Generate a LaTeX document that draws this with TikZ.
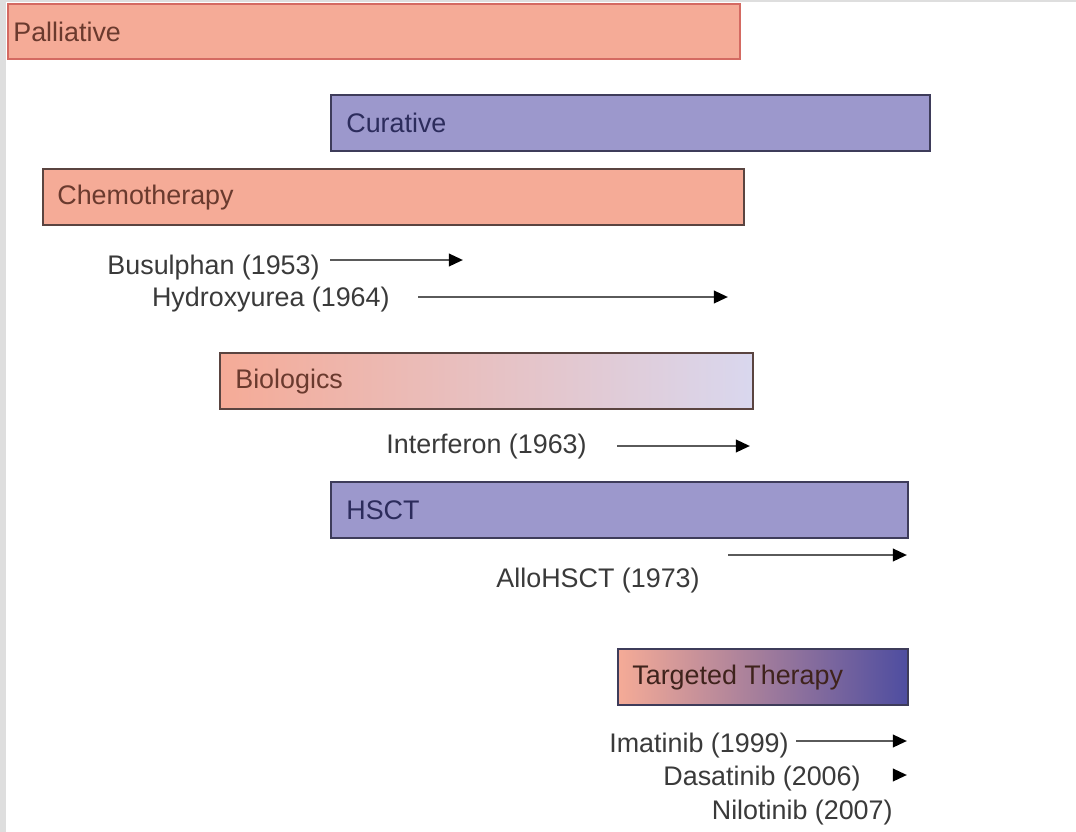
\documentclass[tikz,border=0pt]{standalone}
\usepackage{fontspec}
\setmainfont{Liberation Sans}
\usetikzlibrary{arrows.meta}

\definecolor{edgegray}{HTML}{DEDEDE}
\definecolor{salmon}{HTML}{F5AB97}
\definecolor{lilac}{HTML}{9C98CC}
\definecolor{palred}{HTML}{D46A62}
\definecolor{barbrown}{HTML}{5A4440}
\definecolor{barnavy}{HTML}{3E3C5A}
\definecolor{redtext}{HTML}{6A3A2E}
\definecolor{bluetext}{HTML}{2C2C5C}
\definecolor{drugtext}{HTML}{3A3A3A}
\definecolor{arrowgray}{HTML}{5A5A5A}
\definecolor{biopink}{HTML}{EAB8D5}
\definecolor{biolav}{HTML}{D9D7EE}
\definecolor{tgtpink}{HTML}{D68EC8}
\definecolor{tgtblue}{HTML}{4E4DA0}

\tikzset{
  bar/.style={draw, line width=1.2pt, anchor=north west, minimum height=1.12cm, inner sep=0pt},
  redbar/.style={bar, fill=salmon, draw=barbrown},
  bluebar/.style={bar, fill=lilac, draw=barnavy},
  bartext/.style={anchor=west, inner sep=0pt, font=\fontsize{15.3}{18}\selectfont},
  drug/.style={anchor=east, inner sep=0pt, text=drugtext, font=\fontsize{15.3}{18}\selectfont},
  trend/.style={line width=1.5pt, draw=arrowgray, -{Triangle[length=8pt,width=7pt,color=black]}}
}

\begin{document}
\begin{tikzpicture}[x=0.02cm, y=-0.02cm]
  \useasboundingbox (0,0) rectangle (1076,832);
  \fill[white] (0,0) rectangle (1076,832);
  \fill[edgegray] (0,0) rectangle (6,832);
  \fill[edgegray] (0,0) rectangle (1076,2);

  % treatment bars
  \node[redbar, draw=palred, minimum width=14.64cm, minimum height=1.1cm] (palliative) at (7,3) {};
  \node[bartext, text=redtext] (palliative-t) at ([xshift=0.12cm]palliative.west) {Palliative};

  \node[bluebar, minimum width=11.98cm] (curative) at (330,94) {};
  \node[bartext, text=bluetext] (curative-t) at ([xshift=0.32cm]curative.west) {Curative};

  \node[redbar, minimum width=14.02cm] (chemo) at (42,168) {};
  \node[bartext, text=redtext] (chemo-t) at ([xshift=0.3cm]chemo.west) {Chemotherapy};

  \node[bar, draw=barbrown, left color=salmon, middle color=biopink, right color=biolav,
        minimum width=10.66cm] (biologics) at (219,352) {};
  \node[bartext, text=redtext] (biologics-t) at ([xshift=0.32cm]biologics.west) {Biologics};

  \node[bluebar, minimum width=11.54cm] (hsct) at (330,481) {};
  \node[bartext, text=bluetext] (hsct-t) at ([xshift=0.32cm]hsct.west) {HSCT};

  \node[bar, draw=barnavy, left color=salmon, middle color=tgtpink, right color=tgtblue,
        minimum width=5.8cm] (targeted) at (617,648) {};
  \node[bartext, text=redtext!60!black] (targeted-t) at ([xshift=0.3cm]targeted.west) {Targeted Therapy};

  % drugs and their arrows
  \foreach \nm/\txt/\tx/\ty/\ax/\bx/\ay in {
      busulphan/Busulphan (1953)/320/268/330/463/260,
      hydroxyurea/Hydroxyurea (1964)/390/300/418/728/297,
      interferon/Interferon (1963)/587/447/617/750/446,
      allohsct/AlloHSCT (1973)/700/581/728/907/555,
      imatinib/Imatinib (1999)/789/746/796/907/741,
      dasatinib/Dasatinib (2006)/861/779/893/907/775}
  {
    \node[drug] (\nm) at (\tx,\ty) {\txt};
    \coordinate (\nm-s) at (\ax,\ay);
    \coordinate (\nm-e) at (\bx,\ay);
    \draw[trend] (\nm-s) -- (\nm-e);
  }
  \node[drug] (nilotinib) at (893,813) {Nilotinib (2007)};
\end{tikzpicture}
\end{document}
